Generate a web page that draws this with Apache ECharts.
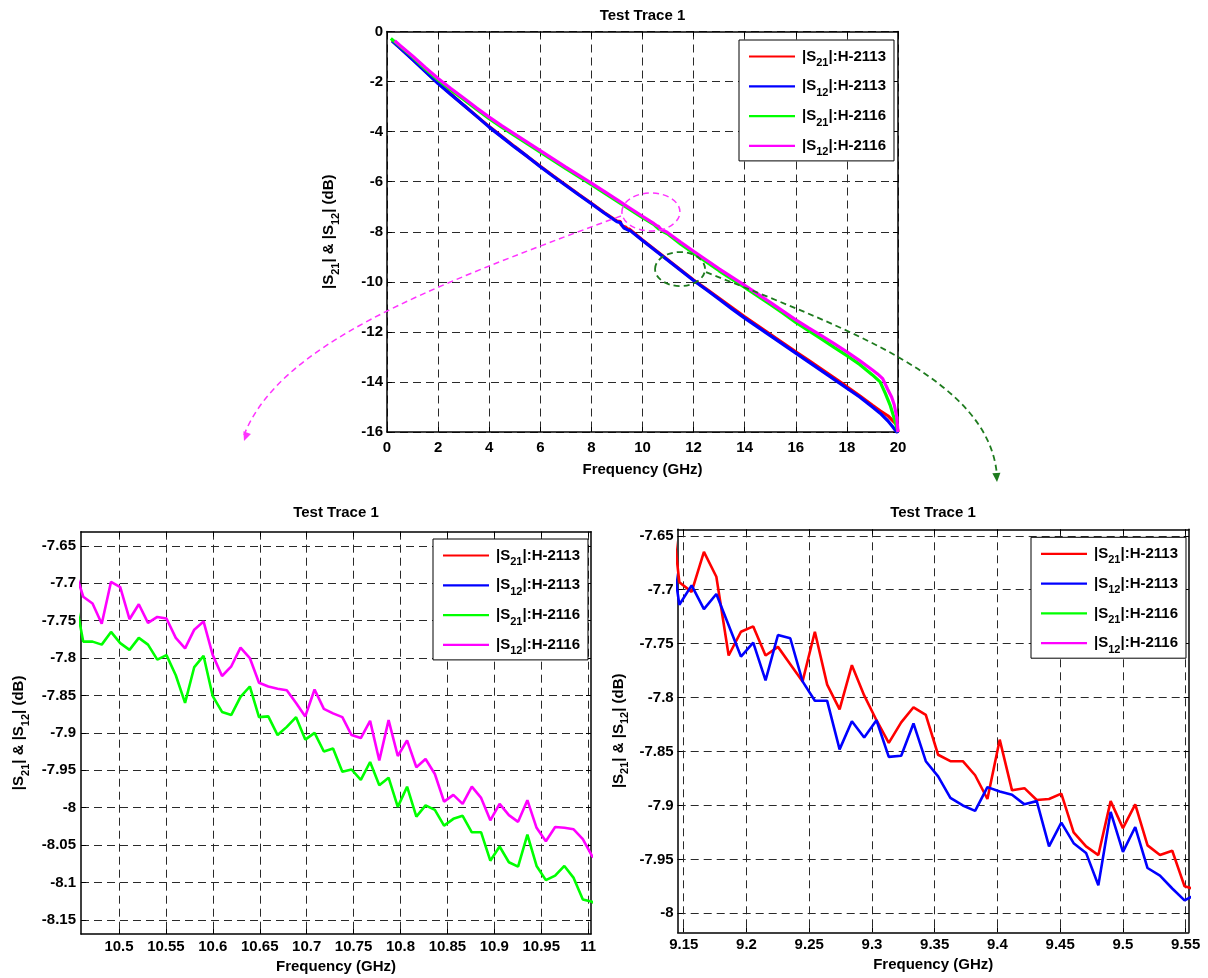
<!DOCTYPE html>
<html><head><meta charset="utf-8">
<script src="https://cdn.jsdelivr.net/npm/echarts@6/dist/echarts.min.js"></script>
<style>html,body{margin:0;padding:0;background:#fff}#c{width:1208px;height:978px}</style>
</head><body><div id="c"></div>
<script>
// ---------------- DATA ----------------
const seriesNames = ['|S21|:H-2113', '|S12|:H-2113', '|S21|:H-2116', '|S12|:H-2116'];
const titleText = 'Test Trace 1';

// tick labels
const topXTicks = [0, 2, 4, 6, 8, 10, 12, 14, 16, 18, 20];
const topYTicks = [-16, -14, -12, -10, -8, -6, -4, -2, 0];
const blXTicks = [10.5, 10.55, 10.6, 10.65, 10.7, 10.75, 10.8, 10.85, 10.9, 10.95, 11];
const blYTicks = [-8.15, -8.1, -8.05, -8, -7.95, -7.9, -7.85, -7.8, -7.75, -7.7, -7.65];
const brXTicks = [9.15, 9.2, 9.25, 9.3, 9.35, 9.4, 9.45, 9.5, 9.55];
const brYTicks = [-8, -7.95, -7.9, -7.85, -7.8, -7.75, -7.7, -7.65];

// wide-band readings (GHz, dB) from the full-span plot
const s21_2113_wide = [[0.2,-0.36],[0.5,-0.64],[1,-1.1],[1.5,-1.58],[2,-2.06],[2.5,-2.5],[3,-2.94],[3.5,-3.37],[4,-3.8],[4.5,-4.2],[5,-4.6],[5.5,-4.99],[6,-5.38],[6.5,-5.76],[7,-6.13],[7.5,-6.5],[8,-6.86],[8.5,-7.23],[9,-7.57],[10,-8.33],[10.5,-8.73],[11,-9.13],[11.5,-9.53],[12,-9.93],[12.5,-10.29],[13,-10.66],[13.5,-11.03],[14,-11.4],[14.5,-11.75],[15,-12.1],[15.5,-12.45],[16,-12.8],[16.5,-13.14],[17,-13.49],[17.5,-13.84],[18,-14.19],[18.5,-14.55],[19,-14.93],[19.3,-15.15],[19.6,-15.35],[19.8,-15.55],[19.95,-15.7],[20,-16.0]];
const s12_2113_wide = [[0.2,-0.38],[0.5,-0.65],[1,-1.12],[1.5,-1.6],[2,-2.08],[2.5,-2.52],[3,-2.95],[3.5,-3.38],[4,-3.82],[4.5,-4.22],[5,-4.62],[5.5,-5.0],[6,-5.4],[6.5,-5.78],[7,-6.15],[7.5,-6.52],[8,-6.88],[8.5,-7.25],[9,-7.6],[10,-8.35],[10.5,-8.75],[11,-9.15],[11.5,-9.55],[12,-9.95],[12.5,-10.32],[13,-10.7],[13.5,-11.08],[14,-11.45],[14.5,-11.8],[15,-12.15],[15.5,-12.5],[16,-12.85],[16.5,-13.2],[17,-13.55],[17.5,-13.9],[18,-14.25],[18.5,-14.6],[19,-15.0],[19.3,-15.25],[19.6,-15.55],[19.8,-15.8],[19.95,-16.0],[20,-16.05]];
const s21_2116_wide = [[0.15,-0.28],[0.5,-0.58],[1,-1.02],[1.5,-1.5],[2,-1.94],[2.5,-2.34],[3,-2.72],[3.5,-3.1],[4,-3.48],[4.5,-3.83],[5,-4.16],[5.5,-4.49],[6,-4.82],[6.5,-5.15],[7,-5.48],[7.5,-5.8],[8,-6.12],[8.5,-6.45],[9,-6.78],[9.5,-7.11],[10,-7.44],[11.5,-8.5],[12,-8.86],[12.5,-9.21],[13,-9.56],[13.5,-9.89],[14,-10.22],[14.5,-10.56],[15,-10.9],[15.5,-11.25],[16,-11.62],[16.5,-11.95],[17,-12.28],[17.5,-12.62],[18,-12.95],[18.5,-13.3],[19,-13.72],[19.3,-14.0],[19.5,-14.45],[19.7,-14.95],[19.85,-15.45],[20,-16.0]];
const s12_2116_wide = [[0.3,-0.37],[0.5,-0.55],[1,-0.98],[1.5,-1.44],[2,-1.88],[2.5,-2.28],[3,-2.66],[3.5,-3.05],[4,-3.42],[4.5,-3.77],[5,-4.1],[5.5,-4.43],[6,-4.76],[6.5,-5.09],[7,-5.42],[7.5,-5.74],[8,-6.06],[8.5,-6.39],[9,-6.72],[9.5,-7.05],[10,-7.38],[11.5,-8.42],[12,-8.78],[12.5,-9.13],[13,-9.48],[13.5,-9.81],[14,-10.14],[14.5,-10.48],[15,-10.82],[15.5,-11.17],[16,-11.52],[16.5,-11.84],[17,-12.15],[17.5,-12.47],[18,-12.8],[18.5,-13.15],[19,-13.52],[19.2,-13.68],[19.4,-13.87],[19.6,-14.3],[19.75,-14.6],[19.85,-14.9],[19.95,-15.4],[20,-16.0]];

// fine readings around 9.15-9.55 GHz (H-2113)
const freqA = [9.1367,9.1465,9.1563,9.1661,9.1760,9.1858,9.1956,9.2054,9.2152,9.2251,9.2349,9.2447,9.2545,9.2643,9.2742,9.2840,9.2938,9.3036,9.3134,9.3233,9.3331,9.3429,9.3527,9.3625,9.3724,9.3822,9.3920,9.4018,9.4116,9.4215,9.4313,9.4411,9.4509,9.4607,9.4706,9.4804,9.4902,9.5000,9.5098,9.5196,9.5295,9.5393,9.5491,9.5589];
const s21_2113_fine = [-7.590,-7.693,-7.702,-7.665,-7.688,-7.761,-7.739,-7.734,-7.761,-7.753,-7.769,-7.785,-7.739,-7.788,-7.811,-7.770,-7.798,-7.821,-7.842,-7.823,-7.809,-7.816,-7.853,-7.859,-7.859,-7.872,-7.894,-7.839,-7.886,-7.884,-7.895,-7.894,-7.889,-7.925,-7.938,-7.946,-7.896,-7.921,-7.899,-7.937,-7.946,-7.942,-7.975,-7.978];
const s12_2113_fine = [-7.635,-7.714,-7.696,-7.718,-7.704,-7.733,-7.762,-7.749,-7.784,-7.742,-7.745,-7.785,-7.803,-7.803,-7.848,-7.822,-7.837,-7.821,-7.855,-7.854,-7.824,-7.859,-7.873,-7.893,-7.900,-7.905,-7.883,-7.887,-7.890,-7.899,-7.896,-7.938,-7.916,-7.935,-7.944,-7.974,-7.906,-7.943,-7.920,-7.958,-7.965,-7.977,-7.988,-7.982];

// fine readings around 10.46-11 GHz (H-2116)
const freqB = [10.4520,10.4619,10.4718,10.4816,10.4915,10.5013,10.5112,10.5211,10.5309,10.5408,10.5506,10.5605,10.5704,10.5802,10.5901,10.5999,10.6098,10.6197,10.6295,10.6394,10.6492,10.6591,10.6690,10.6788,10.6887,10.6985,10.7084,10.7183,10.7281,10.7380,10.7478,10.7577,10.7676,10.7774,10.7873,10.7971,10.8070,10.8169,10.8267,10.8366,10.8464,10.8563,10.8662,10.8760,10.8859,10.8957,10.9056,10.9155,10.9253,10.9352,10.9450,10.9549,10.9648,10.9746,10.9845,10.9943,11.0042];
const s21_2116_fine = [-7.712,-7.778,-7.778,-7.782,-7.765,-7.780,-7.789,-7.773,-7.782,-7.802,-7.796,-7.823,-7.860,-7.812,-7.797,-7.851,-7.872,-7.876,-7.852,-7.838,-7.879,-7.878,-7.903,-7.892,-7.879,-7.909,-7.900,-7.925,-7.921,-7.952,-7.949,-7.963,-7.939,-7.970,-7.960,-7.999,-7.972,-8.012,-7.997,-8.003,-8.024,-8.015,-8.011,-8.033,-8.033,-8.071,-8.052,-8.073,-8.079,-8.036,-8.078,-8.097,-8.091,-8.078,-8.094,-8.123,-8.126];
const s12_2116_fine = [-7.679,-7.718,-7.727,-7.754,-7.698,-7.705,-7.748,-7.728,-7.753,-7.745,-7.747,-7.773,-7.787,-7.762,-7.751,-7.796,-7.824,-7.811,-7.786,-7.800,-7.833,-7.838,-7.841,-7.843,-7.860,-7.878,-7.842,-7.868,-7.874,-7.879,-7.903,-7.907,-7.884,-7.937,-7.883,-7.931,-7.910,-7.946,-7.935,-7.955,-7.992,-7.983,-7.995,-7.972,-7.987,-8.017,-7.995,-8.010,-8.019,-7.990,-8.027,-8.045,-8.026,-8.027,-8.029,-8.042,-8.065];

// annotation ellipse centres on the full-span plot (GHz, dB)
const magentaMark = [10.33, -7.21];
const greenMark = [11.47, -9.49];

// ---------------- BUILD ----------------
function merge(wide, ff, fv) {
  const pts = wide.map(p => [p[0], p[1]]);
  ff.forEach((f, i) => pts.push([f, fv[i]]));
  pts.sort((a, b) => a[0] - b[0]);
  return pts;
}
const seriesData = [
  merge(s21_2113_wide, freqA, s21_2113_fine),
  merge(s12_2113_wide, freqA, s12_2113_fine),
  merge(s21_2116_wide, freqB, s21_2116_fine),
  merge(s12_2116_wide, freqB, s12_2116_fine)
];
const colors = ['#FF0000', '#0000FF', '#00FF00', '#FF00FF'];
const FONT = '"Liberation Sans", Arial, Helvetica, sans-serif';
const rich = {
  m: {fontFamily: FONT, fontSize: 15, fontWeight: 'bold', color: '#000', lineHeight: 24},
  s: {fontFamily: FONT, fontSize: 11, fontWeight: 'bold', color: '#000', lineHeight: 2, verticalAlign: 'bottom'}
};
function richLabel(name) {
  const m = name.match(/^\|S(\d\d)\|(.*)$/);
  return '{m||S}{s|' + m[1] + '}{m||' + m[2] + '}';
}
const yName = '{m||S}{s|21}{m|| & |S}{s|12}{m|| (dB)}';

const grids = [
  {left: 387, top: 31.5, width: 511, height: 400.5},
  {left: 81, top: 531.7, width: 510, height: 402.3},
  {left: 677.7, top: 529.3, width: 511, height: 403}
];
const xr = [[0, 20, topXTicks, 8, 30], [10.4595, 11.003, blXTicks, 5, 25], [9.1452, 9.5524, brXTicks, 5, 25]];
const yr = [[-16, 0, topYTicks, 4, 46], [-8.169, -7.631, blYTicks, 5, 50], [-8.0176, -7.644, brYTicks, 4, 47]];
const gridLine = {show: true, lineStyle: {color: '#2a2a2a', width: 1, type: [8, 5]}};
const axLine = {show: true, onZero: false, lineStyle: {color: '#000', width: 1.5}};
const labStyle = {fontFamily: FONT, fontSize: 15, fontWeight: 'bold', color: '#000'};

const xAxis = [], yAxis = [];
for (let g = 0; g < 3; g++) {
  xAxis.push({
    type: 'value', gridIndex: g, min: xr[g][0], max: xr[g][1], position: 'bottom',
    axisLine: axLine,
    axisTick: {show: true, inside: true, length: 5, customValues: xr[g][2], lineStyle: {color: '#000', width: 1}},
    axisLabel: Object.assign({show: true, margin: xr[g][3], customValues: xr[g][2]}, labStyle),
    splitLine: gridLine,
    name: 'Frequency (GHz)', nameLocation: 'middle', nameGap: xr[g][4],
    nameTextStyle: {fontFamily: FONT, fontSize: 15, fontWeight: 'bold', color: '#000'}
  });
  yAxis.push({
    type: 'value', gridIndex: g, min: yr[g][0], max: yr[g][1], position: 'left',
    axisLine: axLine,
    axisTick: {show: true, inside: true, length: 5, customValues: yr[g][2], lineStyle: {color: '#000', width: 1}},
    axisLabel: Object.assign({show: true, margin: yr[g][3], customValues: yr[g][2]}, labStyle),
    splitLine: gridLine,
    name: yName, nameLocation: 'middle', nameGap: yr[g][4],
    nameTextStyle: {rich: rich}
  });
}
for (let g = 0; g < 3; g++) {
  xAxis.push({
    type: 'value', gridIndex: g, min: xr[g][0], max: xr[g][1], position: 'top',
    axisLine: axLine,
    axisTick: {show: true, inside: true, length: 5, customValues: xr[g][2], lineStyle: {color: '#000', width: 1}},
    axisLabel: {show: false}, splitLine: {show: false}
  });
  yAxis.push({
    type: 'value', gridIndex: g, min: yr[g][0], max: yr[g][1], position: 'right',
    axisLine: axLine,
    axisTick: {show: true, inside: true, length: 5, customValues: yr[g][2], lineStyle: {color: '#000', width: 1}},
    axisLabel: {show: false}, splitLine: {show: false}
  });
}

const series = [];
for (let g = 0; g < 3; g++) {
  for (let i = 0; i < 4; i++) {
    series.push({
      type: 'line', name: seriesNames[i], xAxisIndex: g, yAxisIndex: g,
      data: seriesData[i], symbol: 'none', showSymbol: false, clip: true,
      lineStyle: {color: colors[i], width: g === 0 ? 3.2 : 2.6},
      itemStyle: {color: colors[i]}, z: 3
    });
  }
}

const legendPos = [[739, 40], [433, 539], [1031, 537.3]];
const legend = legendPos.map(p => ({
  data: seriesNames, orient: 'vertical', left: p[0], top: p[1],
  padding: [9, 8, 3, 10], itemGap: 10.3, itemWidth: 46, itemHeight: 2.2, icon: 'rect',
  backgroundColor: '#fff', borderColor: '#000', borderWidth: 1, selectedMode: false,
  formatter: richLabel,
  textStyle: {rich: rich, padding: [0, 0, 0, 2]}
}));

const titleStyle = {fontFamily: FONT, fontSize: 15, fontWeight: 'bold', color: '#000'};
const title = [[642.5, 8], [336, 505], [933, 505]].map(p => ({
  text: titleText, left: p[0], top: p[1], textAlign: 'center', padding: 0, textStyle: titleStyle
}));

const chart = echarts.init(document.getElementById('c'), null, {renderer: 'canvas', width: 1208, height: 978});
chart.setOption({
  animation: false,
  backgroundColor: '#fff',
  title: title,
  grid: grids.map(g => Object.assign({containLabel: false, outerBoundsMode: 'none'}, g)),
  xAxis: xAxis, yAxis: yAxis, legend: legend, series: series
});

// annotations
function arrowHead(tip, dir, size, color) {
  const len = Math.hypot(dir[0], dir[1]);
  const ux = dir[0] / len, uy = dir[1] / len;
  const bx = tip[0] - ux * size, by = tip[1] - uy * size;
  const px = -uy, py = ux, w = size * 0.45;
  return {type: 'polygon', z: 100, shape: {points: [tip, [bx + px * w, by + py * w], [bx - px * w, by - py * w]]}, style: {fill: color}};
}
const mc = chart.convertToPixel({xAxisIndex: 0, yAxisIndex: 0}, magentaMark);
const gc = chart.convertToPixel({xAxisIndex: 0, yAxisIndex: 0}, greenMark);
const MAG = '#FF33FF', DG = '#1E7B1E';
const mStart = [mc[0] - 30, mc[1] + 4], mEnd = [244, 441];
const gStart = [gc[0] + 26, gc[1] + 3], gEnd = [997, 482];
chart.setOption({
  graphic: [
    {type: 'ellipse', z: 100, shape: {cx: mc[0], cy: mc[1], rx: 29, ry: 19}, style: {fill: 'none', stroke: MAG, lineWidth: 1.5, lineDash: [6, 4]}},
    {type: 'bezierCurve', z: 100, shape: {x1: mStart[0], y1: mStart[1], cpx1: 420, cpy1: 290, cpx2: 280, cpy2: 345, x2: mEnd[0], y2: mEnd[1] - 6}, style: {fill: 'none', stroke: MAG, lineWidth: 1.5, lineDash: [6, 4]}},
    arrowHead(mEnd, [mEnd[0] - 280, mEnd[1] - 345], 9, MAG),
    {type: 'ellipse', z: 100, shape: {cx: gc[0], cy: gc[1], rx: 25, ry: 17}, style: {fill: 'none', stroke: DG, lineWidth: 1.8, lineDash: [6, 4]}},
    {type: 'bezierCurve', z: 100, shape: {x1: gStart[0], y1: gStart[1], cpx1: 850, cpy1: 330, cpx2: 990, cpy2: 380, x2: gEnd[0], y2: gEnd[1] - 6}, style: {fill: 'none', stroke: DG, lineWidth: 1.8, lineDash: [6, 4]}},
    arrowHead(gEnd, [gEnd[0] - 990, gEnd[1] - 380], 9, DG)
  ]
});
</script></body></html>
